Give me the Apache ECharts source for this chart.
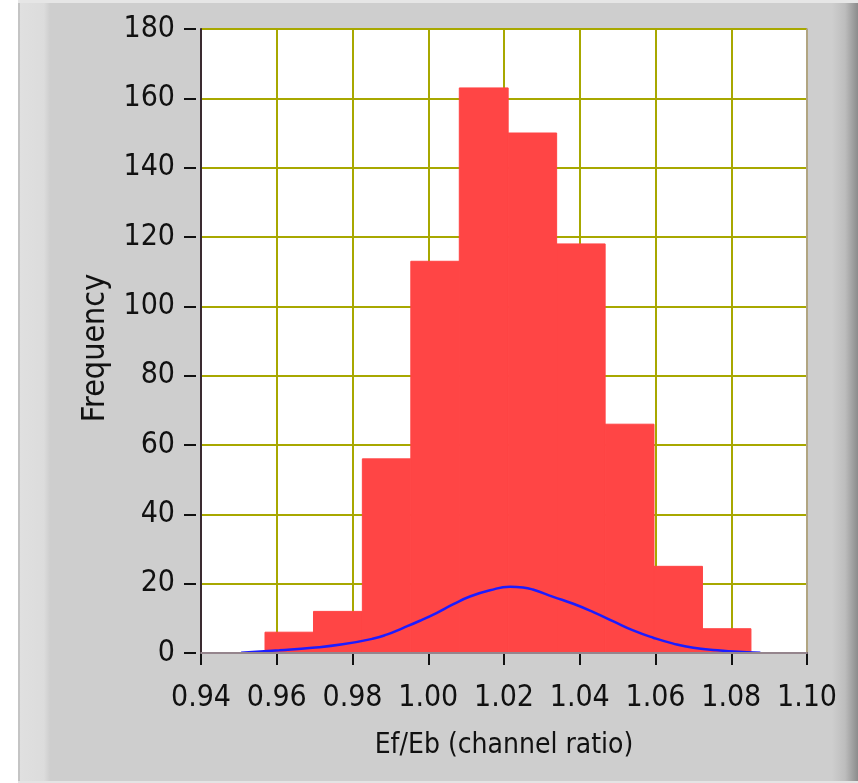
<!DOCTYPE html>
<html>
<head>
<meta charset="utf-8">
<script src="https://cdn.jsdelivr.net/npm/echarts@6/dist/echarts.min.js"></script>
<style>
html,body{margin:0;padding:0;background:#cecece;}
#c{width:858px;height:783px;}
</style>
</head>
<body>
<div id="c"></div>
<script>
// Histogram bin edges (channel ratio) and counts
const binEdges = [0.9569, 0.9697, 0.9826, 0.9954, 1.0082, 1.0211, 1.0339, 1.0467, 1.0596, 1.0724, 1.0852];
const counts = [6, 12, 56, 113, 163, 150, 118, 66, 25, 7];
// Fitted curve (blue)
const fitX = [0.9506, 0.9607, 0.9694, 0.9774, 0.9853, 0.9890, 0.9933, 0.9978, 1.0023, 1.0065, 1.0110, 1.0163, 1.0216, 1.0250, 1.0276, 1.0330, 1.0383, 1.0436, 1.0489, 1.0541, 1.0594, 1.0647, 1.0700, 1.0764, 1.0806, 1.0877];
const fitY = [0.1, 0.8, 1.5, 2.5, 4.1, 5.3, 7.2, 9.3, 11.6, 14.0, 16.3, 18.1, 19.1, 18.9, 18.3, 16.2, 14.2, 11.8, 9.1, 6.5, 4.4, 2.7, 1.5, 0.8, 0.4, 0.1];
// Axis settings
const xMin = 0.94, xMax = 1.10, xStep = 0.02;
const yMin = 0, yMax = 180, yStep = 20;
const xTitle = 'Ef/Eb (channel ratio)';
const yTitle = 'Frequency';

const FONT = "'Liberation Sans Narrow', 'DejaVu Sans Condensed', 'Liberation Sans', sans-serif";
const GRIDC = '#a8a800';
const DARK = '#3a2a30';
const LIGHT = '#b4a4ac';
const BARC = '#ff4545';

const histData = counts.map((c, i) => [binEdges[i], binEdges[i + 1], c]);
const fitData = fitX.map((x, i) => [x, fitY[i]]);

const chart = echarts.init(document.getElementById('c'), null, {renderer: 'canvas'});
chart.setOption({
  backgroundColor: '#cecece',
  animation: false,
  graphic: [
    {type: 'rect', shape: {x: 0, y: 0, width: 18, height: 783}, style: {fill: '#ffffff'}, silent: true},
    {type: 'rect', shape: {x: 18, y: 0, width: 840, height: 3}, style: {fill: '#e6e6e6'}, silent: true},
    {type: 'rect', shape: {x: 18, y: 3, width: 2, height: 780}, style: {fill: '#c4c4c4'}, silent: true},
    {type: 'rect', shape: {x: 20, y: 3, width: 30, height: 780},
      style: {fill: new echarts.graphic.LinearGradient(0, 0, 1, 0, [{offset: 0, color: '#e0e0e0'}, {offset: 0.8, color: '#dcdcdc'}, {offset: 1, color: '#cecece'}])}, silent: true},
    {type: 'rect', shape: {x: 832, y: 3, width: 26, height: 780},
      style: {fill: new echarts.graphic.LinearGradient(0, 0, 1, 0, [{offset: 0, color: '#cecece'}, {offset: 0.5, color: '#bdbdbd'}, {offset: 1, color: '#8c8c8c'}])}, silent: true},
    {type: 'rect', shape: {x: 18, y: 781, width: 840, height: 2}, style: {fill: '#e4e4e4'}, silent: true}
  ],
  grid: {
    left: 201, top: 29, width: 606, height: 624,
    show: true, backgroundColor: '#ffffff', borderColor: LIGHT, borderWidth: 1.5,
    containLabel: false
  },
  xAxis: [{
    type: 'value', min: xMin, max: xMax, interval: xStep,
    position: 'bottom', offset: 7,
    axisLine: {show: false},
    axisTick: {show: true, length: 12, lineStyle: {color: '#111', width: 2}},
    axisLabel: {color: '#111', fontFamily: FONT, fontSize: 30, margin: 23,
      formatter: v => v.toFixed(2)},
    splitLine: {show: true, lineStyle: {color: GRIDC, width: 2}},
    name: xTitle, nameLocation: 'middle', nameGap: 72,
    nameTextStyle: {color: '#111', fontFamily: FONT, fontSize: 28}
  }, {
    type: 'value', min: xMin, max: xMax, position: 'top', z: 10,
    axisLine: {show: true, lineStyle: {color: DARK, width: 2}},
    axisTick: {show: false}, axisLabel: {show: false}, splitLine: {show: false}
  }, {
    type: 'value', min: xMin, max: xMax, position: 'bottom', offset: 0, z: 10,
    axisLine: {show: true, lineStyle: {color: LIGHT, width: 1.5}},
    axisTick: {show: false}, axisLabel: {show: false}, splitLine: {show: false}
  }],
  yAxis: [{
    type: 'value', min: yMin, max: yMax, interval: yStep,
    position: 'left', offset: 5,
    axisLine: {show: false},
    axisTick: {show: true, length: 12, lineStyle: {color: '#111', width: 2}},
    axisLabel: {color: '#111', fontFamily: FONT, fontSize: 30, margin: 21},
    splitLine: {show: true, lineStyle: {color: GRIDC, width: 2}},
    name: yTitle, nameLocation: 'middle', nameGap: 84,
    nameTextStyle: {color: '#111', fontFamily: FONT, fontSize: 32, padding: [0, 14, 0, 0]}
  }, {
    type: 'value', min: yMin, max: yMax, position: 'left', offset: 0, z: 10,
    axisLine: {show: true, lineStyle: {color: DARK, width: 2}},
    axisTick: {show: false}, axisLabel: {show: false}, splitLine: {show: false}
  }, {
    type: 'value', min: yMin, max: yMax, position: 'right', offset: 0, z: 10,
    axisLine: {show: true, lineStyle: {color: LIGHT, width: 1.5}},
    axisTick: {show: false}, axisLabel: {show: false}, splitLine: {show: false}
  }],
  series: [{
    type: 'custom',
    xAxisIndex: 0, yAxisIndex: 0,
    data: histData,
    renderItem: function (params, api) {
      const p0 = api.coord([api.value(0), api.value(2)]);
      const p1 = api.coord([api.value(1), 0]);
      return {
        type: 'rect',
        shape: {x: p0[0], y: p0[1], width: p1[0] - p0[0], height: p1[1] - p0[1]},
        style: {fill: BARC, stroke: BARC, lineWidth: 1}
      };
    },
    encode: {x: [0, 1], y: 2},
    z: 3
  }, {
    type: 'line',
    xAxisIndex: 0, yAxisIndex: 0,
    data: fitData,
    smooth: true,
    symbol: 'none',
    lineStyle: {color: '#1c1cff', width: 2.5},
    z: 4
  }]
});
</script>
</body>
</html>
